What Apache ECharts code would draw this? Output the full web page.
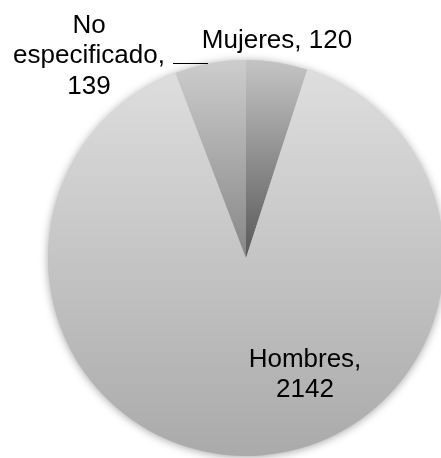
<!DOCTYPE html>
<html>
<head>
<meta charset="utf-8">
<script src="https://cdn.jsdelivr.net/npm/echarts@6/dist/echarts.min.js"></script>
<style>
  html, body { margin: 0; padding: 0; background: #fff; }
  #chart { width: 441px; height: 458px; }
</style>
</head>
<body>
<div id="chart"></div>
<script>
const categories = ['Mujeres', 'Hombres', 'No especificado'];
const values = [120, 2142, 139];

const gradients = [
  ['#c4c4c4', '#585858'],
  ['#dedede', '#aaaaaa'],
  ['#cdcdcd', '#868686']
];

function grad(c) {
  return { type: 'linear', x: 0, y: 0, x2: 0, y2: 1,
    colorStops: [{ offset: 0, color: c[0] }, { offset: 1, color: c[1] }] };
}

const mainData = categories.map((name, i) => ({
  name: name,
  value: values[i],
  itemStyle: { color: grad(gradients[i]) },
  labelLine: { show: i === 2 }
}));
const shadowData = categories.map((name, i) => ({ name: name, value: values[i] }));

const labelPos = {
  0: { x: 277, y: 41 },
  1: { x: 305, y: 375 },
  2: { x: 89, y: 56 }
};

const chart = echarts.init(document.getElementById('chart'), null, { renderer: 'canvas' });
chart.setOption({
  animation: false,
  backgroundColor: '#ffffff',
  series: [
    {
      type: 'pie',
      silent: true,
      z: 1,
      center: [246, 258],
      radius: 198,
      startAngle: 90,
      clockwise: true,
      data: shadowData,
      label: { show: false },
      labelLine: { show: false },
      itemStyle: {
        color: '#cccccc',
        shadowBlur: 8,
        shadowColor: 'rgba(0,0,0,0.35)',
        shadowOffsetY: 1
      }
    },
    {
      type: 'pie',
      z: 2,
      center: [246, 258],
      radius: 198,
      startAngle: 90,
      clockwise: true,
      data: mainData,
      itemStyle: { borderWidth: 0 },
      label: {
        show: true,
        position: 'outside',
        color: '#000',
        fontFamily: '"Liberation Sans", Arial, sans-serif',
        fontSize: 26,
        lineHeight: 30.5,
        align: 'center',
        overflow: 'none',
        formatter: function (p) {
          if (p.dataIndex === 0) return p.name + ', ' + p.value;
          return p.name.replace(' ', '\n') + ',\n' + p.value;
        }
      },
      labelLine: {
        show: true,
        lineStyle: { color: '#000', width: 1.2 }
      },
      labelLayout: function (params) {
        const pos = labelPos[params.dataIndex];
        const out = { x: pos.x, y: pos.y, align: 'center', verticalAlign: 'middle', width: 300 };
        if (params.dataIndex === 2) {
          out.labelLinePoints = [[208, 63.5], [190, 63.5], [173, 63.5]];
        }
        return out;
      }
    }
  ]
});
</script>
</body>
</html>
